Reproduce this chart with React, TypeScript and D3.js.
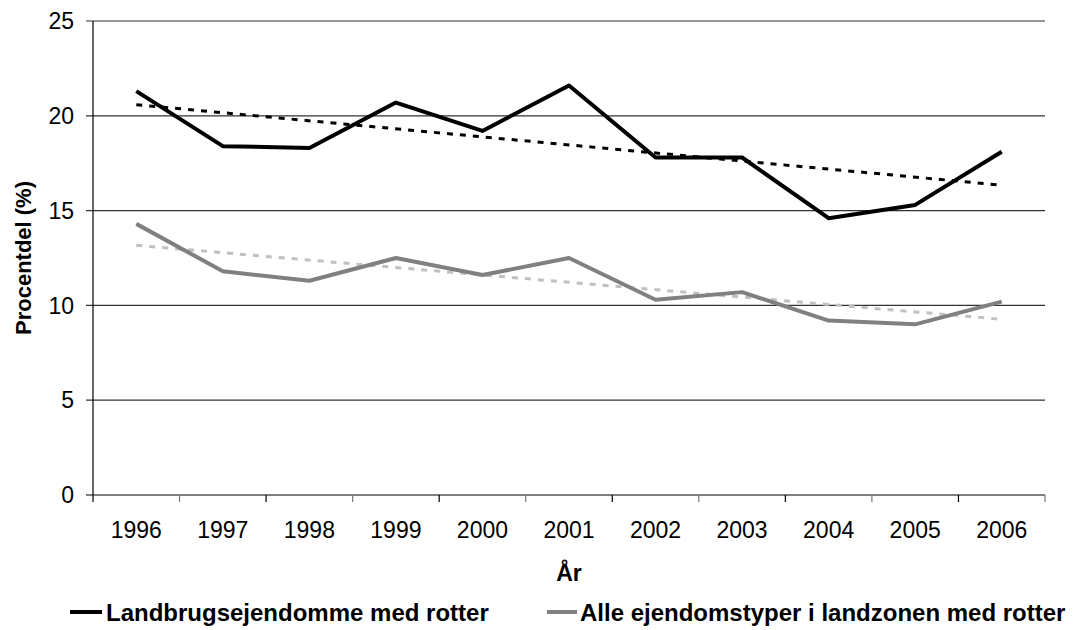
import * as d3 from 'd3'

const years = ['1996', '1997', '1998', '1999', '2000', '2001', '2002', '2003', '2004', '2005', '2006']
const landbrug = [21.3, 18.4, 18.3, 20.7, 19.2, 21.6, 17.8, 17.8, 14.6, 15.3, 18.1]
const alle = [14.3, 11.8, 11.3, 12.5, 11.6, 12.5, 10.3, 10.7, 9.2, 9.0, 10.2]
const yTicks = [0, 5, 10, 15, 20, 25]

const W = 1077
const H = 630
const left = 93
const right = 1045
const top = 21
const bottom = 495
const font = '"Liberation Sans", Arial, sans-serif'

// least squares trend line, like the spreadsheet's linear trendline
function trend(vals: number[]) {
  const n = vals.length
  const mx = (n - 1) / 2
  const my = d3.mean(vals) as number
  let sxy = 0
  let sxx = 0
  vals.forEach((v, i) => {
    sxy += (i - mx) * (v - my)
    sxx += (i - mx) * (i - mx)
  })
  const b = sxy / sxx
  return [my - b * mx, my + b * (n - 1 - mx)]
}

export default function App() {
  const x = d3.scaleBand<string>().domain(years).range([left, right])
  const y = d3.scaleLinear().domain([0, 25]).range([bottom, top])
  const cx = (d: string) => (x(d) as number) + x.bandwidth() / 2

  const line = d3
    .line<number>()
    .x((_, i) => cx(years[i]))
    .y((v) => y(v))

  const t1 = trend(landbrug)
  const t2 = trend(alle)
  const first = cx(years[0])
  const last = cx(years[years.length - 1])

  const bounds = years.map((d) => x(d) as number).concat([right])

  return (
    <svg width={W} height={H} style={{ position: 'absolute', left: 0, top: 0 }} fontFamily={font}>
      <rect width={W} height={H} fill="#fff" />
      {yTicks.map((t) => (
        <g key={t}>
          <line x1={left - 7} x2={right} y1={y(t)} y2={y(t)} stroke={t === 0 ? '#000' : '#333'} strokeWidth={1.2} />
          <text x={left - 19} y={y(t)} dy="0.36em" textAnchor="end" fontSize={23}>
            {t}
          </text>
        </g>
      ))}
      <line x1={left} x2={left} y1={top} y2={bottom} stroke="#000" strokeWidth={1.2} />
      {bounds.map((b, i) => (
        <line key={i} x1={b} x2={b} y1={bottom} y2={bottom + 7} stroke={i % 2 ? '#777' : '#000'} strokeWidth={1.2} />
      ))}
      {years.map((d) => (
        <text key={d} x={cx(d)} y={538} textAnchor="middle" fontSize={23}>
          {d}
        </text>
      ))}
      <text x={(left + right) / 2} y={581} textAnchor="middle" fontSize={23} fontWeight="bold">
        År
      </text>
      <text
        transform={`translate(31,${(top + bottom) / 2}) rotate(-90)`}
        textAnchor="middle"
        fontSize={22}
        fontWeight="bold"
      >
        Procentdel (%)
      </text>

      <line x1={first} x2={last} y1={y(t2[0])} y2={y(t2[1])} stroke="#c0c0c0" strokeWidth={3} strokeDasharray="6,7" />
      <line x1={first} x2={last} y1={y(t1[0])} y2={y(t1[1])} stroke="#000" strokeWidth={3} strokeDasharray="6,7" />
      <path d={line(alle) as string} fill="none" stroke="#808080" strokeWidth={4} strokeLinejoin="round" />
      <path d={line(landbrug) as string} fill="none" stroke="#000" strokeWidth={4} strokeLinejoin="round" />

      <line x1={70} x2={102} y1={612} y2={612} stroke="#000" strokeWidth={4} />
      <text x={106} y={621} fontSize={24} fontWeight="bold">
        Landbrugsejendomme med rotter
      </text>
      <line x1={547} x2={577} y1={612} y2={612} stroke="#808080" strokeWidth={4} />
      <text x={580} y={621} fontSize={24} fontWeight="bold">
        Alle ejendomstyper i landzonen med rotter
      </text>
    </svg>
  )
}
